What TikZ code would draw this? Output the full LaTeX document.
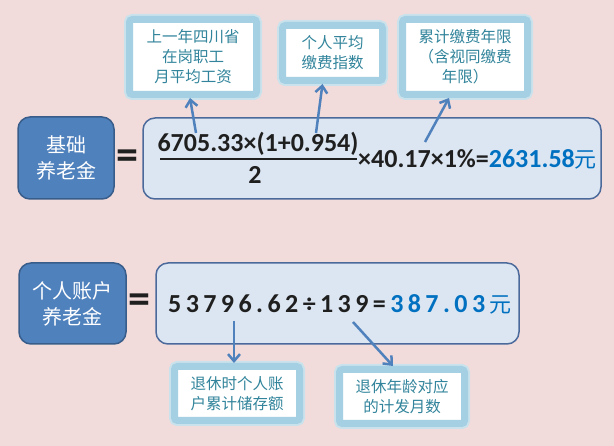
\documentclass[tikz,border=0pt]{standalone}
\usepackage{fontspec}
\setmainfont{Carlito}
\newfontfamily\cjk{Noto Sans CJK SC}
\newfontfamily\spaced[LetterSpace=17]{Carlito}
\usetikzlibrary{arrows.meta}
\definecolor{bg}{HTML}{F2DCDB}
\definecolor{darkfill}{HTML}{4F81BD}
\definecolor{darkborder}{HTML}{385D8A}
\definecolor{bigfill}{HTML}{DCE6F2}
\definecolor{bigborder}{HTML}{4B6A9B}
\definecolor{glow}{HTML}{A5CFE2}
\definecolor{glowlight}{HTML}{C9E2EC}
\definecolor{tealtxt}{HTML}{31849B}
\definecolor{arrowc}{HTML}{4F81BD}
\definecolor{resblue}{HTML}{0070C0}
\definecolor{numc}{HTML}{1F1F1F}
\begin{document}
\begin{tikzpicture}[x=1pt,y=-1pt,
  darkbox/.style={draw=darkborder, fill=darkfill, line width=1.5pt, rounded corners=12pt,
    text=white, font=\cjk\fontsize{20}{26}\selectfont, align=center, inner sep=0pt},
  bigbox/.style={draw=bigborder, fill=bigfill, line width=1.5pt, rounded corners=12pt, inner sep=0pt},
  callout/.style={draw=glow, line width=7pt, fill=white, rounded corners=3pt,
    preaction={draw=glowlight, line width=11pt},
    text=tealtxt, font=\cjk\fontsize{15.5}{20}\selectfont, align=center, inner sep=0pt},
  ptr/.style={draw=arrowc, line width=2.5pt, -{Straight Barb[length=7pt,width=12pt]}},
  numtxt/.style={text=numc, font=\bfseries\fontsize{26}{30}\selectfont, inner sep=0pt},
  eqsign/.style={text=numc, font=\bfseries\fontsize{44}{44}\selectfont, inner sep=0pt}
]
\fill[bg] (0,0) rectangle (614,446);
\useasboundingbox (0,0) rectangle (614,446);

% ---------- top row ----------
\node[darkbox, minimum width=96pt, minimum height=82pt] (jc) at (66,158) {基础\\养老金};
\node[eqsign] (eq1) at (127,160) {=};
\node[bigbox, minimum width=458pt, minimum height=81pt] (big1) at (372,158.5) {};

\node[numtxt, anchor=base] (num) at (258,152) {6705.33×(1+0.954)};
\draw[numc, line width=2pt] (160,159) -- (357,159);
\node[numtxt, anchor=base] (den) at (255,184) {2};
\node[numtxt, anchor=base west] (rest) at (358,168)
  {×40.17×1\%=\textcolor{resblue}{2631.58}{\cjk\mdseries\fontsize{22}{26}\selectfont\textcolor{resblue}{元}}};

\node[callout, minimum width=127pt, minimum height=75pt] (c1) at (193,57) {上一年四川省\\在岗职工\\月平均工资};
\node[callout, minimum width=100pt, minimum height=55pt] (c2) at (332.5,53) {个人平均\\缴费指数};
\node[callout, minimum width=125pt, minimum height=75pt] (c3) at (465,57) {累计缴费年限\\（含视同缴费\\年限）};

\coordinate (t1) at (196,133);
\coordinate (t2) at (316,133);
\coordinate (t3) at (425,142);
\draw[ptr] (t1) -- ([xshift=-3pt]c1.south);
\draw[ptr] (t2) -- ([xshift=-10pt]c2.south);
\draw[ptr] (t3) -- ([xshift=-16pt]c3.south);

% ---------- bottom row ----------
\node[darkbox, minimum width=107pt, minimum height=81pt] (gr) at (72.5,303.5) {个人账户\\养老金};
\node[eqsign] (eq2) at (139,304) {=};
\node[bigbox, minimum width=363pt, minimum height=81pt] (big2) at (337.5,303.5) {};

\node[anchor=base west, inner sep=0pt, text=numc, font=\spaced\bfseries\fontsize{26}{30}\selectfont] (calc2) at (168,313)
  {53796.62÷139=\kern0.17em\textcolor{resblue}{387.03}\kern0.17em{\cjk\mdseries\fontsize{22}{26}\selectfont\textcolor{resblue}{元}}};

\node[callout, minimum width=125pt, minimum height=54pt] (c4) at (237,393.5) {退休时个人账\\户累计储存额};
\node[callout, minimum width=125pt, minimum height=54pt] (c5) at (402,396.5) {退休年龄对应\\的计发月数};

\coordinate (t4) at (234,321);
\coordinate (t5) at (353,322);
\draw[ptr] (t4) -- ([xshift=-3pt]c4.north);
\draw[ptr] (t5) -- ([xshift=-9pt]c5.north);
\end{tikzpicture}
\end{document}
